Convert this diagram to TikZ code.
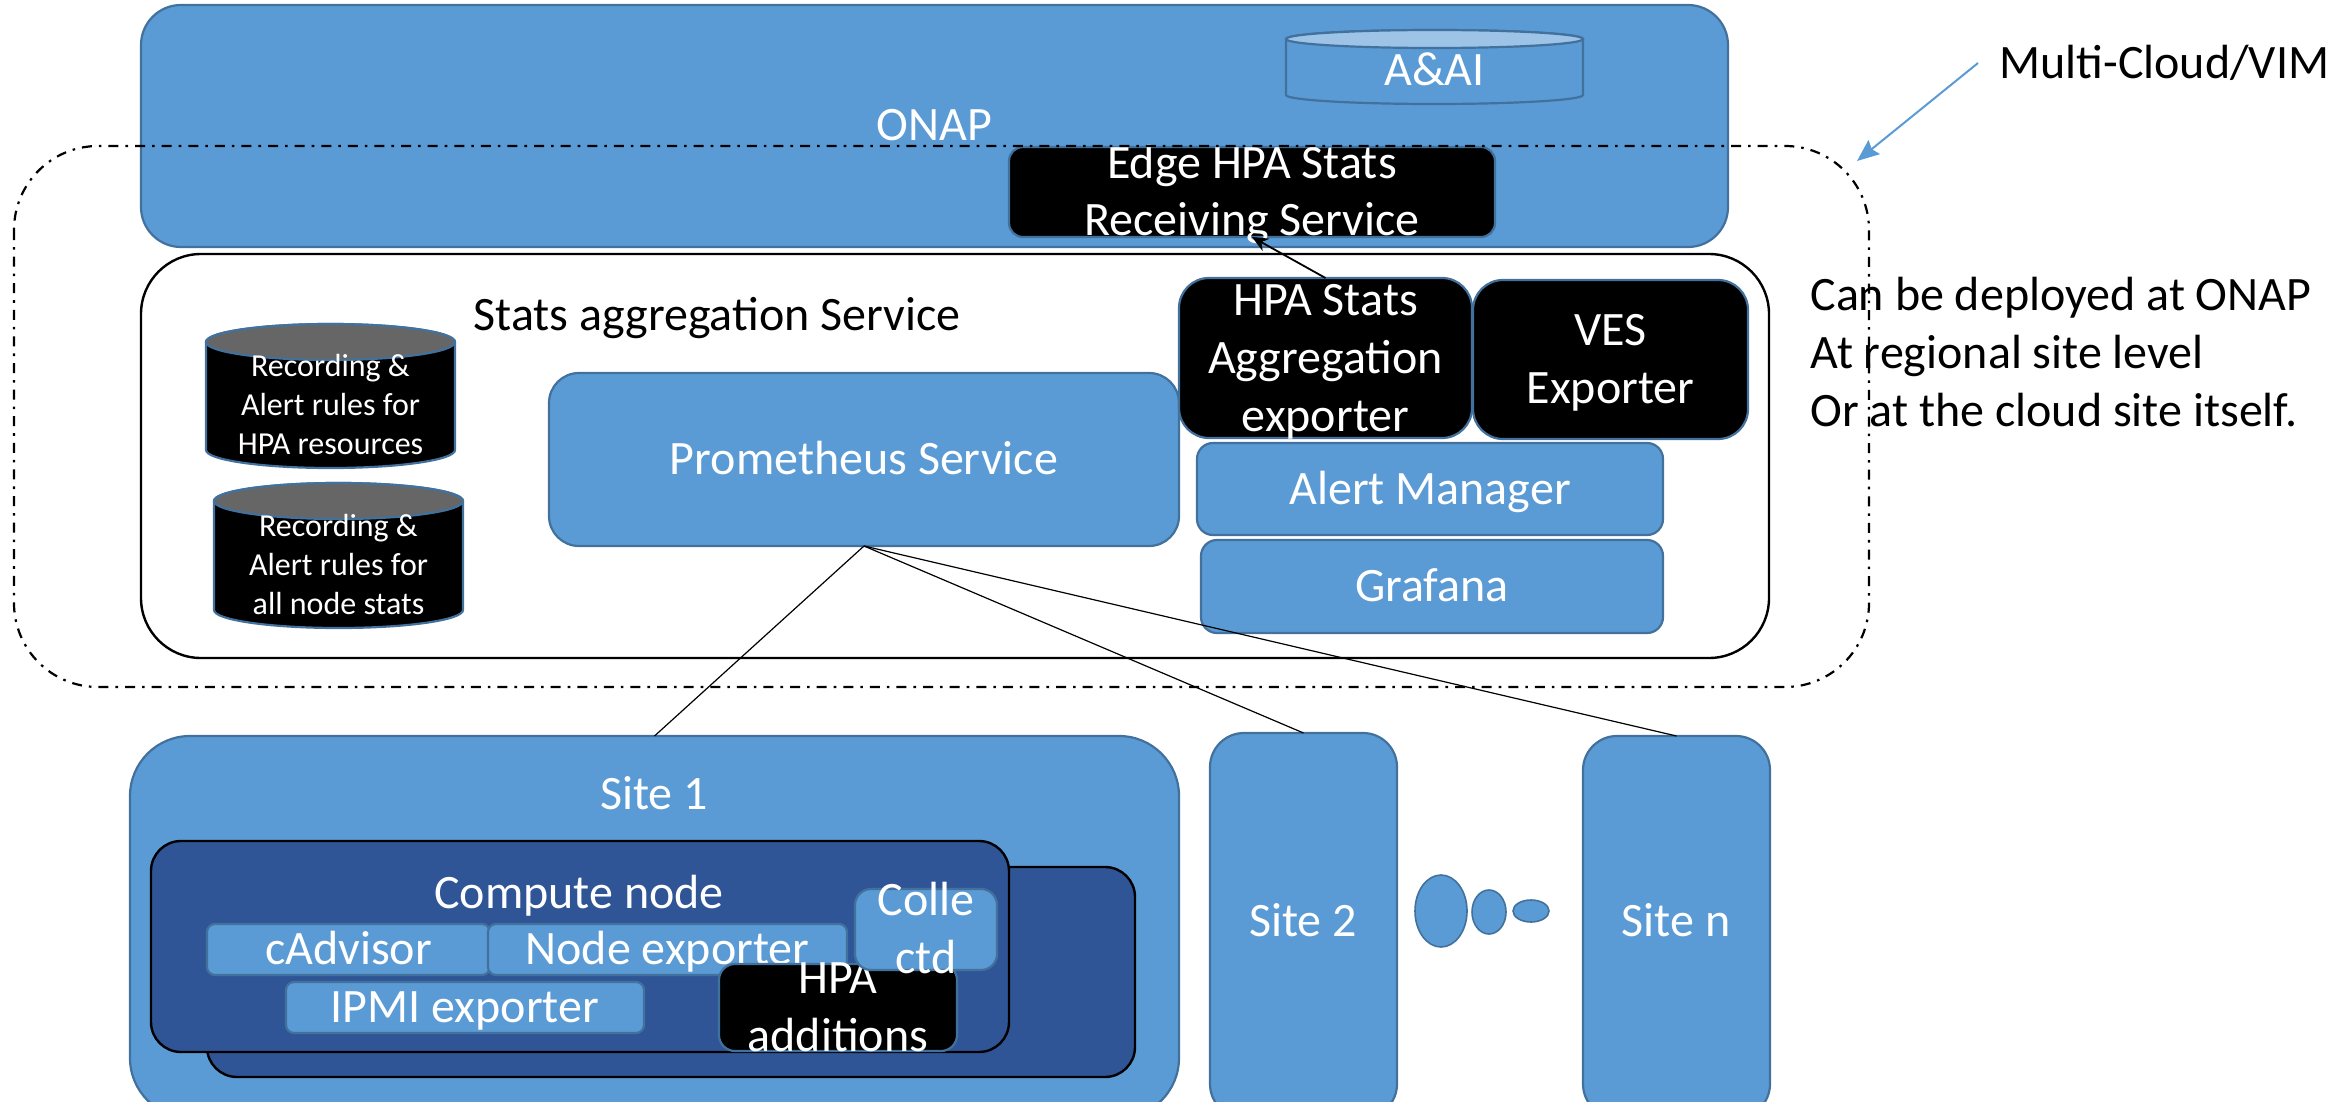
\documentclass[tikz,border=0pt]{standalone}
\usepackage{fontspec}
\setmainfont{Carlito}
\usetikzlibrary{arrows.meta}
\definecolor{accent}{HTML}{5B9BD5}
\definecolor{accentline}{HTML}{41719C}
\definecolor{deep}{HTML}{2F5597}
\definecolor{pale}{HTML}{9DC3E6}
\definecolor{greytop}{HTML}{666666}
\newcommand{\bigfont}{\fontsize{24}{29}\selectfont}
\newcommand{\smallfont}{\fontsize{16}{19.4}\selectfont}
\newcommand{\ct}[1]{\raisebox{-0.66em}{\smash{\begin{tabular}{@{}c@{}}#1\end{tabular}}}}
\tikzset{
  x=0.5pt,y=-0.5pt,
  boxbase/.style={inner sep=0pt,outer sep=0pt,font=\bigfont,text=white},
  bluebox/.style={boxbase,draw=accentline,fill=accent,line width=1.1pt},
  blackbox/.style={boxbase,draw=accentline,fill=black,line width=1.1pt},
  deepbox/.style={boxbase,draw=black,fill=deep,line width=1.2pt,rounded corners=15pt},
  whitebox/.style={boxbase,draw=black,fill=white,line width=1.2pt,rounded corners=30pt},
  rsmall/.style={rounded corners=4pt},
  rmid/.style={rounded corners=8pt},
  rbig/.style={rounded corners=15pt},
  rhuge/.style={rounded corners=20pt},
  plainlabel/.style={inner sep=0pt,font=\bigfont,text=white},
  smalllabel/.style={inner sep=0pt,font=\smallfont,text=white},
  darklabel/.style={inner sep=0pt,font=\bigfont,text=black,align=left,anchor=west},
  cylbody/.style={draw=accentline,line width=1.1pt},
  blob/.style={draw=accentline,fill=accent,line width=0.8pt},
  link/.style={draw=black,line width=0.6pt},
  perimeter/.style={draw=black,line width=1.1pt,dash pattern=on 5pt off 3.5pt on 1.3pt off 3.5pt,rounded corners=42pt},
}
\newcommand{\bx}[7][]{%
  \pgfmathsetmacro{\cxv}{(#3+#5)/2}\pgfmathsetmacro{\cyv}{(#4+#6)/2}%
  \pgfmathsetmacro{\wv}{(#5-#3)/2}\pgfmathsetmacro{\hv}{(#6-#4)/2}%
  \node[#1,minimum width=\wv pt,minimum height=\hv pt] (#2) at (\cxv,\cyv) {#7};}
\begin{document}
\begin{tikzpicture}
\useasboundingbox (0,0) rectangle (2351,1102);
\clip (0,0) rectangle (2351,1102);
% ONAP
\bx[bluebox,rhuge]{onap}{141}{5}{1728}{247}{\ct{ONAP}}
\path[cylbody,fill=accent]
  (1286,39) -- (1286,95) arc[start angle=180,end angle=360,x radius=74.25pt,y radius=4.5pt]
  -- (1583,39) arc[start angle=0,end angle=180,x radius=74.25pt,y radius=4.5pt] -- cycle;
\path[cylbody,fill=pale] (1434.5,39) ellipse[x radius=74.25pt,y radius=4.5pt];
\node[plainlabel] (aai) at (1434.5,71) {\ct{A\&AI}};
\bx[blackbox,rounded corners=7pt]{edge}{1009}{147}{1495}{237}{\ct{Edge HPA Stats\\Receiving Service}}
% perimeter
\draw[perimeter] (14,146) rectangle (1869,687);
% Stats aggregation
\bx[whitebox]{stats}{141}{254}{1769}{658}{}
\node[inner sep=0pt,font=\bigfont,text=black] (statslabel) at (717,315) {\ct{Stats aggregation Service}};
\bx[bluebox,rbig]{prom}{549}{373}{1179}{546}{\ct{Prometheus Service}}
\bx[blackbox,rbig]{hpastats}{1179}{278}{1472}{438}{\ct{HPA Stats\\Aggregation\\exporter}}
\bx[blackbox,rbig]{ves}{1473}{280}{1748}{439}{\ct{VES\\Exporter}}
\bx[bluebox,rmid]{alert}{1197}{443}{1663}{535}{\ct{Alert Manager}}
\bx[bluebox,rmid]{grafana}{1201}{540}{1663}{633}{\ct{Grafana}}
% database cylinders
\path[cylbody,fill=black]
  (206,342) -- (206,450) arc[start angle=180,end angle=360,x radius=62.25pt,y radius=9pt]
  -- (455,342) arc[start angle=0,end angle=180,x radius=62.25pt,y radius=9pt] -- cycle;
\path[cylbody,fill=greytop] (330.5,342) ellipse[x radius=62.25pt,y radius=9pt];
\node[smalllabel] (rulesA) at (330.5,406) {\ct{Recording \&\\Alert rules for\\HPA resources}};
\path[cylbody,fill=black]
  (214,501) -- (214,610) arc[start angle=180,end angle=360,x radius=62.25pt,y radius=9pt]
  -- (463,501) arc[start angle=0,end angle=180,x radius=62.25pt,y radius=9pt] -- cycle;
\path[cylbody,fill=greytop] (338.5,501) ellipse[x radius=62.25pt,y radius=9pt];
\node[smalllabel] (rulesB) at (338.5,566) {\ct{Recording \&\\Alert rules for\\all node stats}};
% Sites
\bx[bluebox,rounded corners=30pt]{site1}{130}{736}{1179}{1118}{}
\node[plainlabel] (site1label) at (654,794) {\ct{Site 1}};
\bx[deepbox]{back}{207}{867}{1135}{1077}{}
\bx[deepbox]{front}{151}{841}{1009}{1052}{}
\node[plainlabel] (computelabel) at (579,893) {\ct{Compute node}};
\bx[bluebox,rsmall]{cadvisor}{207}{924}{490}{975}{\ct{cAdvisor}}
\bx[bluebox,rsmall]{nodeexp}{488}{924}{847}{975}{\ct{Node exporter}}
\bx[bluebox,rsmall]{ipmi}{286}{982}{644}{1033}{\ct{IPMI exporter}}
\bx[blackbox,rmid]{hpaadd}{719}{964}{957}{1051}{\ct{HPA\\additions}}
\bx[bluebox,rmid]{collectd}{855}{889}{997}{970}{\ct{Colle\\ctd}}
\bx[bluebox,rounded corners=17pt]{site2}{1210}{733}{1397}{1118}{}
\node[plainlabel] (site2label) at (1303,921) {\ct{Site 2}};
\bx[bluebox,rounded corners=17pt]{siten}{1583}{736}{1770}{1118}{}
\node[plainlabel] (sitenlabel) at (1676,921) {\ct{Site n}};
\path[blob] (1441,911) ellipse[x radius=13pt,y radius=18pt];
\path[blob] (1489,912) ellipse[x radius=8.5pt,y radius=11pt];
\path[blob] (1531,911) ellipse[x radius=9pt,y radius=5.5pt];
% connectors
\draw[link] (prom.south) -- (site1.north);
\draw[link] (prom.south) -- (site2.north);
\draw[link] (prom.south) -- (siten.north);
\draw[link,line width=0.9pt,-{Stealth[length=8pt,width=7pt]}] (hpastats.north) -- (edge.south);
% side labels
\node[darklabel] (mc) at (1999,63) {Multi-Cloud/VIM};
\coordinate (mcstart) at (1978,63);
\coordinate (mcend) at (1857,161);
\draw[draw=accent,line width=1pt,-{Stealth[length=11pt,width=9pt,inset=1.5pt]}] (mcstart) -- (mcend);
\node[darklabel] (deploy) at (1810,352) {\parbox[c]{300pt}{\raggedright Can be deployed at ONAP\\At regional site level\\Or at the cloud site itself.}};
\end{tikzpicture}
\end{document}
